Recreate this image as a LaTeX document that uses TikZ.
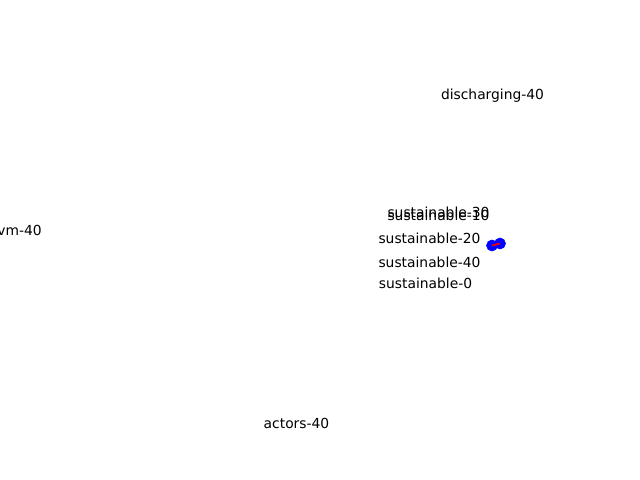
\documentclass[tikz,border=0pt]{standalone}
\usepackage{fontspec}
\setmainfont{DejaVu Sans}
\usetikzlibrary{positioning}
\tikzset{lbl/.style={inner sep=0pt,font=\fontsize{10}{12}\selectfont},
  pt/.style={circle,fill=blue,draw=blue,minimum size=8pt,inner sep=0pt}}

\begin{document}
\begin{tikzpicture}[x=0.01in,y=-0.01in]
\useasboundingbox (0,0) rectangle (640,480);
\node [lbl] (dis40) at (492.5,95.5) {discharging-40};
\node [lbl] (sus30) at (438.5,212) {sustainable-30};
\node [lbl] (sus10) at (438.5,215) {sustainable-10};
\node [lbl] (sus20) at (429.5,238) {sustainable-20};
\node [lbl] (sus40) at (429.5,262) {sustainable-40};
\node [lbl] (sus0) at (425.5,283) {sustainable-0};
\node [lbl,anchor=east] (vm40) at (42,230) {vm-40};
\node [lbl] (act40) at (296.5,423) {actors-40};
% the two points
\node [pt] (a) at (492,245.5) {};
\node [pt] (b) at (500,243.5) {};
\draw [red,line width=1.2pt] (a.center) -- (b.center);
\end{tikzpicture}
\end{document}
